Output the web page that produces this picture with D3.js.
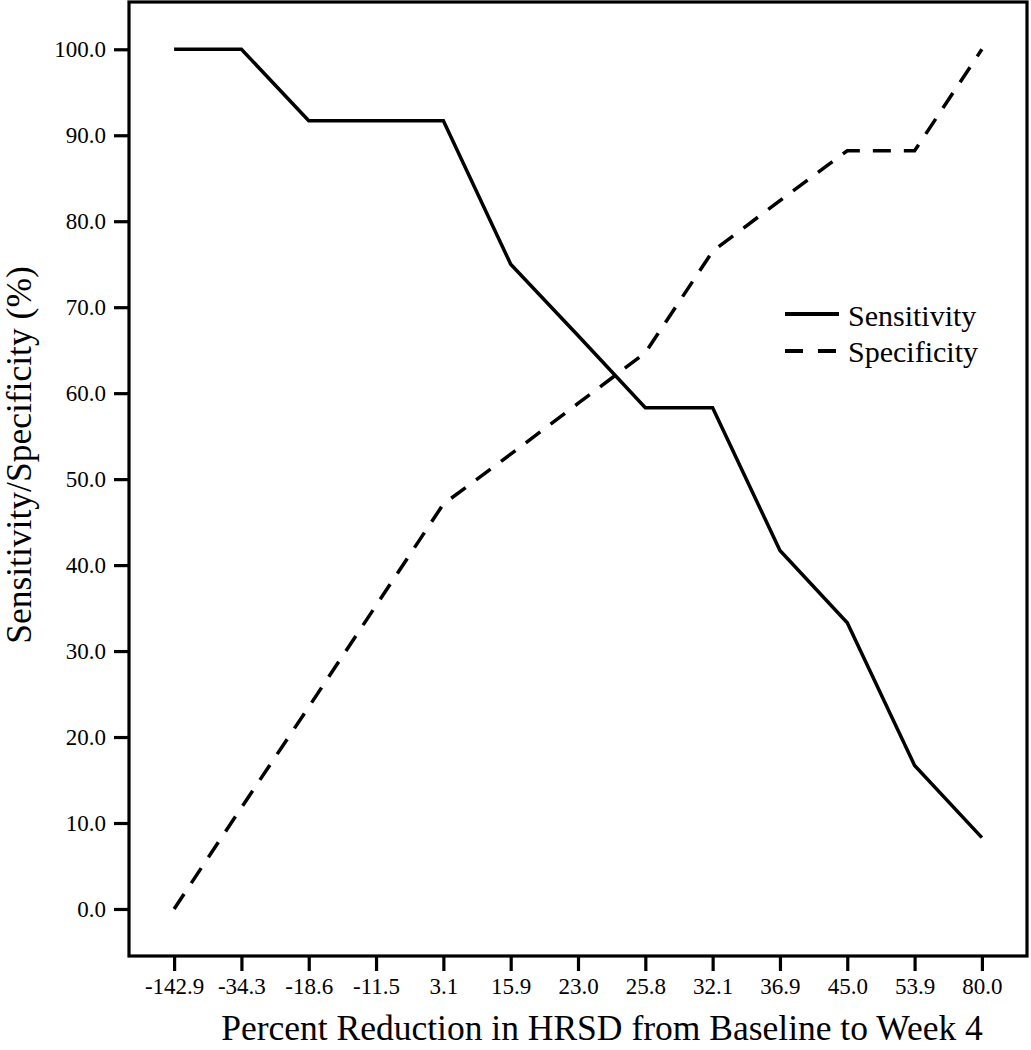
<!DOCTYPE html>
<html lang="en">
<head>
    <meta charset="UTF-8">
    <title>Sensitivity and Specificity</title>
    <script src="https://d3js.org/d3.v7.min.js"></script>
    <style>
        body, html {
            margin: 0;
            padding: 0;
            overflow: hidden;
            background: #fff;
        }
        svg {
            display: block;
            font-family: "Liberation Serif", "Times New Roman", serif;
        }
        .line {
            fill: none;
            stroke: #000;
            stroke-width: 3.5px;
            stroke-linejoin: miter;
        }
    </style>
</head>
<body>
    <svg width="1031" height="1050"></svg>

    <script>
        // cut-off points (percent reduction in HRSD)
        const cutoffs = ["-142.9", "-34.3", "-18.6", "-11.5", "3.1", "15.9", "23.0",
                         "25.8", "32.1", "36.9", "45.0", "53.9", "80.0"];
        const sensitivity = [100, 100, 91.7, 91.7, 91.7, 75.0, 66.7, 58.3, 58.3, 41.7, 33.3, 16.7, 8.3];
        const specificity = [0, 11.8, 23.5, 35.3, 47.1, 52.9, 58.8, 64.7, 76.5, 82.4, 88.2, 88.2, 100];
        const yTicks = [0, 10, 20, 30, 40, 50, 60, 70, 80, 90, 100];

        const svg = d3.select("svg");
        const plotL = 129, plotR = 1027, plotT = 2, plotB = 956;

        const x = d3.scalePoint().domain(cutoffs).range([plotL, plotR]).padding(0.67);
        const y = d3.scaleLinear().domain([-5.47, 105.5]).range([plotB, plotT]);

        // frame
        svg.append("rect")
            .attr("x", plotL).attr("y", plotT)
            .attr("width", plotR - plotL).attr("height", plotB - plotT)
            .attr("fill", "none").attr("stroke", "#000").attr("stroke-width", 3.2);

        // y axis
        const yAxis = svg.append("g")
            .attr("transform", `translate(${plotL},0)`)
            .call(d3.axisLeft(y).tickValues(yTicks).tickFormat(d3.format(".1f")).tickSize(15).tickPadding(8));
        yAxis.select(".domain").remove();
        yAxis.selectAll(".tick line").attr("stroke-width", 3.2);
        yAxis.selectAll(".tick text").attr("font-size", 23).attr("font-family", "Liberation Serif").attr("fill", "#000");

        // x axis
        const xAxis = svg.append("g")
            .attr("transform", `translate(0,${plotB})`)
            .call(d3.axisBottom(x).tickSize(15).tickPadding(7));
        xAxis.select(".domain").remove();
        xAxis.selectAll(".tick line").attr("stroke-width", 3.2);
        xAxis.selectAll(".tick text").attr("font-size", 23).attr("font-family", "Liberation Serif").attr("fill", "#000");

        const line = d3.line()
            .x((d, i) => x(cutoffs[i]))
            .y(d => y(d));

        svg.append("path").datum(sensitivity)
            .attr("class", "line")
            .attr("d", line);

        svg.append("path").datum(specificity)
            .attr("class", "line")
            .attr("stroke-dasharray", "18,13")
            .attr("d", line);

        // legend
        const legend = svg.append("g").attr("transform", "translate(785,314)");
        legend.append("line")
            .attr("x1", 0).attr("x2", 54).attr("y1", 0).attr("y2", 0)
            .attr("stroke", "#000").attr("stroke-width", 4);
        legend.append("line")
            .attr("x1", 0).attr("x2", 54).attr("y1", 37).attr("y2", 37)
            .attr("stroke", "#000").attr("stroke-width", 4)
            .attr("stroke-dasharray", "18,15");
        legend.append("text").attr("x", 63).attr("y", 12)
            .attr("font-size", 30).text("Sensitivity");
        legend.append("text").attr("x", 63).attr("y", 48)
            .attr("font-size", 30).text("Specificity");

        // axis titles
        svg.append("text")
            .attr("x", 602).attr("y", 1040)
            .attr("text-anchor", "middle")
            .attr("font-size", 35.5)
            .text("Percent Reduction in HRSD from Baseline to Week 4");

        svg.append("text")
            .attr("transform", "translate(31,455) rotate(-90)")
            .attr("text-anchor", "middle")
            .attr("font-size", 35.5)
            .text("Sensitivity/Specificity (%)");
    </script>
</body>
</html>
